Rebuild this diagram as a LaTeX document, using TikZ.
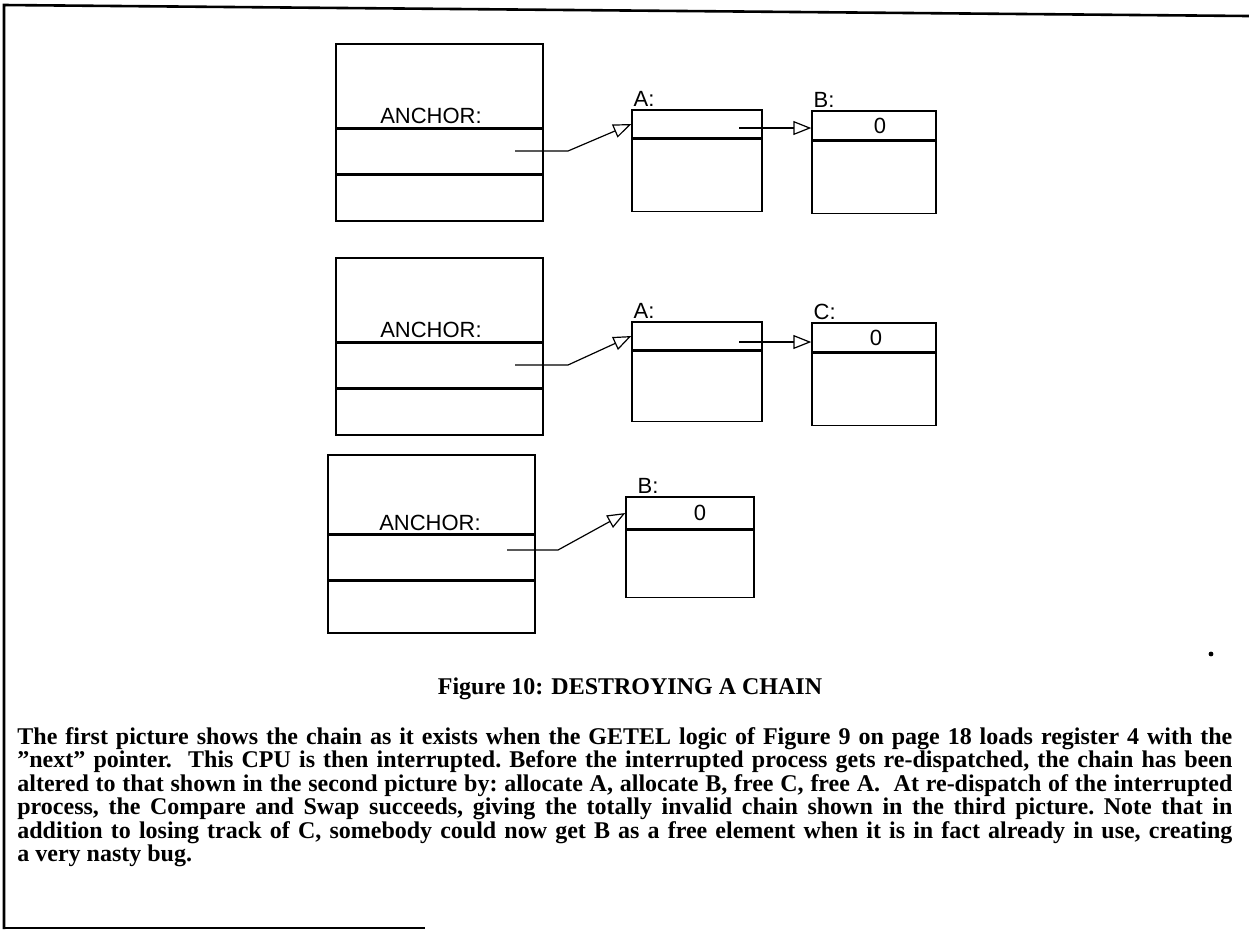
\documentclass[tikz,border=0pt]{standalone}
\usepackage{fontspec}
\setmainfont{Liberation Serif}
\setsansfont{Liberation Sans}
\usetikzlibrary{arrows.meta, positioning, calc}

\begin{document}
\begin{tikzpicture}[x=0.5pt, y=-0.5pt,
    field/.style={draw, line width=0.7pt, inner sep=0pt, font=\sffamily\fontsize{11}{13}\selectfont},
    tag/.style={anchor=south west, inner sep=1pt, font=\sffamily\fontsize{11}{13}\selectfont},
    ptr/.style={-{Triangle[open, length=9pt, width=7pt]}, line width=0.6pt}
  ]
    \useasboundingbox (0,0) rectangle (1249,934);
    % page frame of the scan
    \draw[line width=1.3pt] (4,929) -- (4,5) -- (1249,16);
    \draw[line width=1.1pt] (4,928) -- (425,928);
    \fill (1211,654) circle (1.2pt);

    % first picture
    \node[field, minimum width=103.5pt, minimum height=42pt] (anc1top) at (439.5,86) {};
    \node[field, minimum width=103.5pt, minimum height=22pt, below=0pt of anc1top] (anc1ptr) {};
    \node[field, minimum width=103.5pt, minimum height=23pt, below=0pt of anc1ptr] (anc1rest) {};
    \node[font=\sffamily\fontsize{11}{13}\selectfont, anchor=base] (anc1lbl) at (431,123) {ANCHOR:};
    \node[field, minimum width=65pt, minimum height=14pt] (A1head) at (697,124) {};
    \node[field, minimum width=65pt, minimum height=36pt, below=0pt of A1head] (A1body) {};
    \node[tag] at (A1head.north west) {A:};
    \node[field, minimum width=62pt, minimum height=14.5pt] (B1head) at (874,125.5) {\hspace{6pt}0};
    \node[field, minimum width=62pt, minimum height=36pt, below=0pt of B1head] (B1body) {};
    \node[tag] at (B1head.north west) {B:};
    \coordinate (src1) at (515,151);
    \coordinate (nxt1) at (739,128);
    \draw[ptr] (src1) -- ++(53,0) -- (A1head.west);
    \draw[ptr] (nxt1) -- (nxt1 -| B1head.west);

    % second picture
    \node[field, minimum width=103.5pt, minimum height=42pt] (anc2top) at (439.5,300) {};
    \node[field, minimum width=103.5pt, minimum height=22pt, below=0pt of anc2top] (anc2ptr) {};
    \node[field, minimum width=103.5pt, minimum height=23pt, below=0pt of anc2ptr] (anc2rest) {};
    \node[font=\sffamily\fontsize{11}{13}\selectfont, anchor=base] (anc2lbl) at (431,337) {ANCHOR:};
    \node[field, minimum width=65pt, minimum height=14pt] (A2head) at (697,336) {};
    \node[field, minimum width=65pt, minimum height=35pt, below=0pt of A2head] (A2body) {};
    \node[tag] at (A2head.north west) {A:};
    \node[field, minimum width=62pt, minimum height=14.5pt] (C2head) at (874,337.5) {\hspace{2pt}0};
    \node[field, minimum width=62pt, minimum height=36pt, below=0pt of C2head] (C2body) {};
    \node[tag] at (C2head.north west) {C:};
    \coordinate (src2) at (515,365);
    \coordinate (nxt2) at (739,342);
    \draw[ptr] (src2) -- ++(53,0) -- (A2head.west);
    \draw[ptr] (nxt2) -- (nxt2 -| C2head.west);

    % third picture
    \node[field, minimum width=103.5pt, minimum height=39.5pt] (anc3top) at (431.5,494.5) {};
    \node[field, minimum width=103.5pt, minimum height=22pt, below=0pt of anc3top] (anc3ptr) {};
    \node[field, minimum width=103.5pt, minimum height=26pt, below=0pt of anc3ptr] (anc3rest) {};
    \node[font=\sffamily\fontsize{11}{13}\selectfont, anchor=base] (anc3lbl) at (430,530) {ANCHOR:};
    \node[field, minimum width=64pt, minimum height=16pt] (B3head) at (690,513) {\hspace{10pt}0};
    \node[field, minimum width=64pt, minimum height=33.5pt, below=0pt of B3head] (B3body) {};
    \node[tag] at ($(B3head.north west)+(10,0)$) {B:};
    \coordinate (src3) at (507,550);
    \draw[ptr] (src3) -- ++(51,0) -- (B3head.west);

    % caption and text
    \node[anchor=base, font=\bfseries\fontsize{12}{14}\selectfont] (cap) at (630,694)
      {Figure 10: DESTROYING A CHAIN};
    \node[anchor=north west, inner sep=0pt, text width=607.5pt, align=justify,
          font=\bfseries\fontsize{12}{11.75}\selectfont] (txt) at (17,727)
      {\frenchspacing The first picture shows the chain as it exists when the GETEL logic of Figure 9 on page 18 loads register 4 with the\linebreak
       "next" pointer.\ \ This CPU is then interrupted. Before the interrupted process gets re-dispatched, the chain has been\linebreak
       altered to that shown in the second picture by: allocate A, allocate B, free C, free A.\ \ At re-dispatch of the interrupted\linebreak
       process, the Compare and Swap succeeds, giving the totally invalid chain shown in the third picture. Note that in\linebreak
       addition to losing track of C, somebody could now get B as a free element when it is in fact already in use, creating\linebreak
       a very nasty bug.};
\end{tikzpicture}
\end{document}
